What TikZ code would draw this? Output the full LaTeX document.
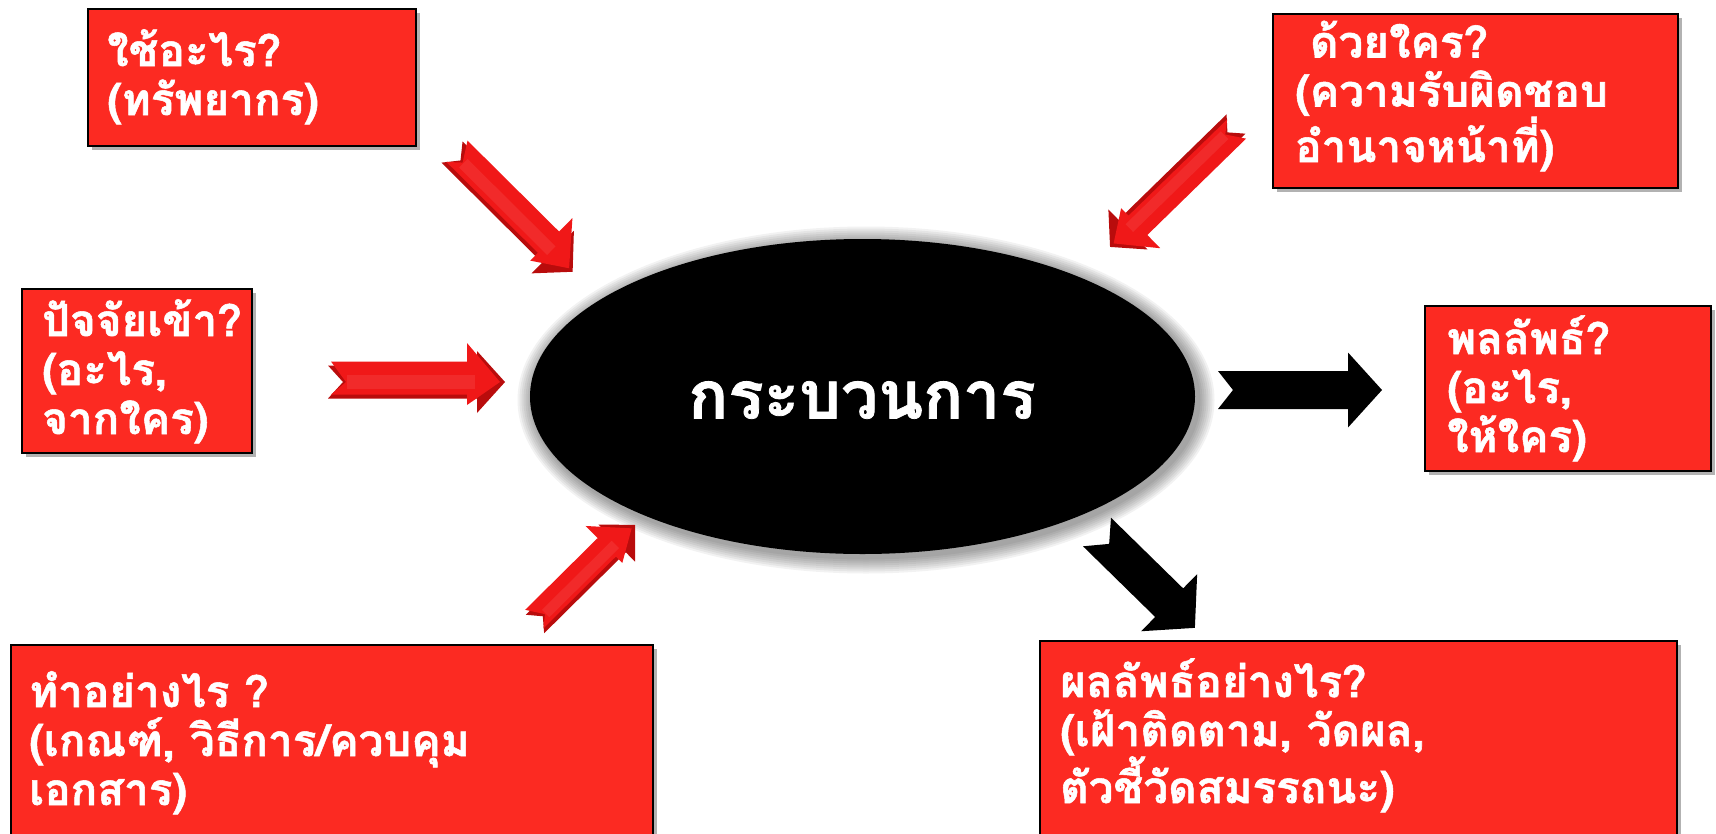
\documentclass[tikz,border=0pt]{standalone}
\usepackage{fontspec}
\newfontfamily\thai[Script=Thai,BoldFeatures={FakeBold=1.2}]{Loma}
\usetikzlibrary{shadows,shapes.geometric}
\definecolor{boxred}{RGB}{252,42,34}
\definecolor{arrred}{RGB}{240,24,24}
\definecolor{arrdark}{RGB}{185,12,12}
\newcommand\arrowshape[5]{(0,#2) -- ({#1-#4},#2) -- ({#1-#4},#3) -- (#1,0) -- ({#1-#4},-#3) -- ({#1-#4},-#2) -- (0,-#2) -- (#5,0) -- cycle}
\newcommand\redarrow[8]{%
  \begin{scope}[shift={(#1,#2)},rotate=#3]
    \fill[arrdark] \arrowshape{#4}{#5}{#6}{#7}{#8};
    \begin{scope}[xshift=3]
      \fill[arrred] \arrowshape{#4-8}{#5-4}{#6-8}{#7-5}{#8};
    \end{scope}
    \fill[white,opacity=0.08] (#8+4,-#5*0.4) rectangle ({#4-#7-2},#5*0.4);
  \end{scope}}
\newcommand\blackarrow[8]{%
  \begin{scope}[shift={(#1,#2)},rotate=#3]
    \fill[black] \arrowshape{#4}{#5}{#6}{#7}{#8};
  \end{scope}}
\tikzset{
  qbox/.style={draw=black,line width=2,fill=boxred,inner sep=0,
    drop shadow={shadow xshift=4,shadow yshift=4,opacity=0.3,fill=black}},
  qtext/.style={anchor=base west,inner sep=0,text=white,align=left,
    font=\thai\bfseries\fontsize{44}{49}\selectfont},
}
\begin{document}
\begin{tikzpicture}[x=1pt,y=-1pt]
\useasboundingbox[fill=white] (0,0) rectangle (1716,833);
% ellipse glow
\foreach \i in {1,...,8}{
  \fill[black,opacity=0.05] (866,400) ellipse ({332.5+2*\i} and {157.5+2*\i});
}
\node[ellipse,fill=black,minimum width=665,minimum height=315,inner sep=0] (proc) at (862.5,396.5) {};
\node[text=white,font=\thai\bfseries\fontsize{66}{70}\selectfont] at (862,400) {กระบวนการ};

% boxes (text anchored at the baseline of its last line)
\node[qbox,minimum width=328,minimum height=137] (b1) at (252,77.5) {};
\node[qtext] (t1) at (107,115) {ใช้อะไร?\\(ทรัพยากร)};
\node[qbox,minimum width=405,minimum height=174] (b2) at (1475.5,101) {};
\node[qtext] (t2) at (1295,162) {\ ด้วยใคร?\\(ความรับผิดชอบ\\อำนาจหน้าที่)};
\node[qbox,minimum width=230,minimum height=164] (b3) at (137,371) {};
\node[qtext] (t3) at (42,434) {ปัจจัยเข้า?\\(อะไร,\\จากใคร)};
\node[qbox,minimum width=286,minimum height=165] (b4) at (1568,388.5) {};
\node[qtext] (t4) at (1447,452) {พลลัพธ์?\\(อะไร,\\ให้ใคร)};
\node[qbox,minimum width=642,minimum height=200] (b5) at (332,745) {};
\node[qtext] (t5) at (29,805) {ทำอย่างไร ?\\(เกณฑ์, วิธีการ/ควบคุม\\เอกสาร)};
\node[qbox,minimum width=637,minimum height=200] (b6) at (1358.5,741) {};
\node[qtext] (t6) at (1060,803) {ผลลัพธ์อย่างไร?\\(เฝ้าติดตาม, วัดผล,\\ตัวชี้วัดสมรรถนะ)};

% arrows: tail x, tail y, angle, L, w, h, hl, notch
\redarrow{452}{152}{-44.8}{170}{15}{30}{28}{12}
\redarrow{328}{382}{0}{177}{16.5}{31}{28}{15}
\redarrow{1236}{124}{-135.7}{176}{13.5}{28}{25}{12}
\redarrow{535}{624}{44.7}{141}{13}{26}{26}{11}
\blackarrow{1218}{390}{0}{164}{19}{37.5}{34}{15}
\blackarrow{1097}{532}{-44.4}{137}{20}{40}{36}{17}
\end{tikzpicture}
\end{document}
